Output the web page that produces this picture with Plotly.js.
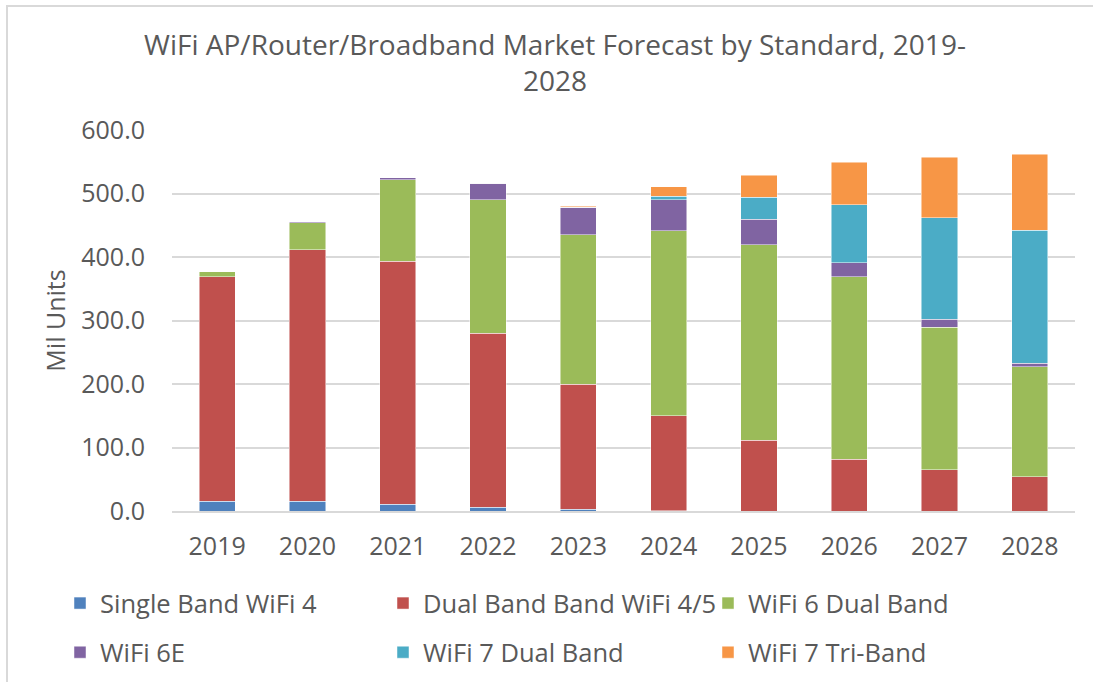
<!DOCTYPE html>
<html>
<head>
<meta charset="utf-8">
<script src="https://cdn.plot.ly/plotly-3.0.1.min.js"></script>
<style>
html,body{margin:0;padding:0;background:#fff;}
#chart{width:1093px;height:682px;}
</style>
</head>
<body>
<div id="chart"></div>
<script>
const years = ["2019","2020","2021","2022","2023","2024","2025","2026","2027","2028"];
const singleBandWiFi4 = [15, 15, 10.5, 6.3, 2.6, 0.3, 0, 0, 0, 0];
const dualBandWiFi45 = [354, 396.6, 382.5, 273.7, 197.4, 149.7, 111.6, 81.6, 65.3, 53.7];
const wifi6DualBand = [8, 42, 129, 210, 235, 291, 307.4, 287.4, 224.2, 173.3];
const wifi6E = [0, 2, 2.7, 25.8, 43, 49, 40.5, 22, 12.5, 6];
const wifi7DualBand = [0, 0, 0, 0, 0.5, 6, 34.5, 91, 160, 209];
const wifi7TriBand = [0, 0, 0, 0, 1.5, 14.5, 35, 67, 95, 119.6];

const seriesNames = ["Single Band WiFi 4","Dual Band Band WiFi 4/5","WiFi 6 Dual Band","WiFi 6E","WiFi 7 Dual Band","WiFi 7 Tri-Band"];
const seriesValues = [singleBandWiFi4, dualBandWiFi45, wifi6DualBand, wifi6E, wifi7DualBand, wifi7TriBand];
const colors = ["#4f81bd","#c0504d","#9bbb59","#8064a2","#4bacc6","#f79646"];
const legendFor = ["legend","legend2","legend3","legend","legend2","legend3"];

const FONT = "Open Sans, Noto Sans, sans-serif";
const TXT = "#595959";

const traces = seriesNames.map((n, i) => ({
  type: "bar",
  name: n,
  x: years,
  y: seriesValues[i],
  marker: {color: colors[i], line: {color: "rgba(255,255,255,0.6)", width: 0.8}},
  legend: legendFor[i],
  legendgroup: "g" + i,
  hoverinfo: "x+y+name"
}));

const L = 172, R = 18, T = 130, B = 171;
const PW = 1093 - L - R, PH = 682 - T - B;
const px = v => (v - L) / PW;
const py = v => (682 - B - v) / PH;

const legendBase = {
  orientation: "v",
  traceorder: "grouped",
  tracegroupgap: 13,
  font: {family: FONT, size: 25.5, color: TXT},
  bgcolor: "rgba(0,0,0,0)",
  yanchor: "top",
  xanchor: "left",
  y: py(580),
  itemclick: false
};

const layout = {
  width: 1093,
  height: 682,
  margin: {l: L, r: R, t: T, b: B, pad: 0, autoexpand: false},
  paper_bgcolor: "#ffffff",
  plot_bgcolor: "#ffffff",
  font: {family: FONT, color: TXT},
  barmode: "stack",
  bargap: 0.6,
  title: {
    text: "WiFi AP/Router/Broadband Market Forecast by Standard, 2019-<br>2028",
    font: {family: FONT, size: 28, color: TXT},
    x: 555 / 1093,
    xanchor: "center",
    y: 1 - 55 / 682,
    yanchor: "top"
  },
  xaxis: {
    type: "category",
    showgrid: false,
    showline: true,
    linecolor: "#d9d9d9",
    linewidth: 2,
    ticks: "",
    tickfont: {family: FONT, size: 25, color: TXT},
    ticklabelstandoff: 12
  },
  yaxis: {
    range: [0, 600],
    dtick: 100,
    tickformat: ".1f",
    showgrid: true,
    gridcolor: "#d9d9d9",
    gridwidth: 2,
    zeroline: false,
    showline: false,
    ticks: "",
    tickfont: {family: FONT, size: 25, color: TXT},
    ticklabelstandoff: 26,
    title: {text: "Mil Units", font: {family: FONT, size: 25, color: TXT}, standoff: 8}
  },
  legend: Object.assign({}, legendBase, {x: px(60)}),
  legend2: Object.assign({}, legendBase, {x: px(383)}),
  legend3: Object.assign({}, legendBase, {x: px(708)}),
  shapes: [
    {type: "line", xref: "paper", yref: "paper", x0: px(6), x1: px(1100), y0: py(6), y1: py(6), line: {color: "#d9d9d9", width: 2}},
    {type: "line", xref: "paper", yref: "paper", x0: px(7), x1: px(7), y0: py(5), y1: py(690), line: {color: "#d9d9d9", width: 2}}
  ]
};

Plotly.newPlot("chart", traces, layout, {displayModeBar: false, responsive: false});
</script>
</body>
</html>
